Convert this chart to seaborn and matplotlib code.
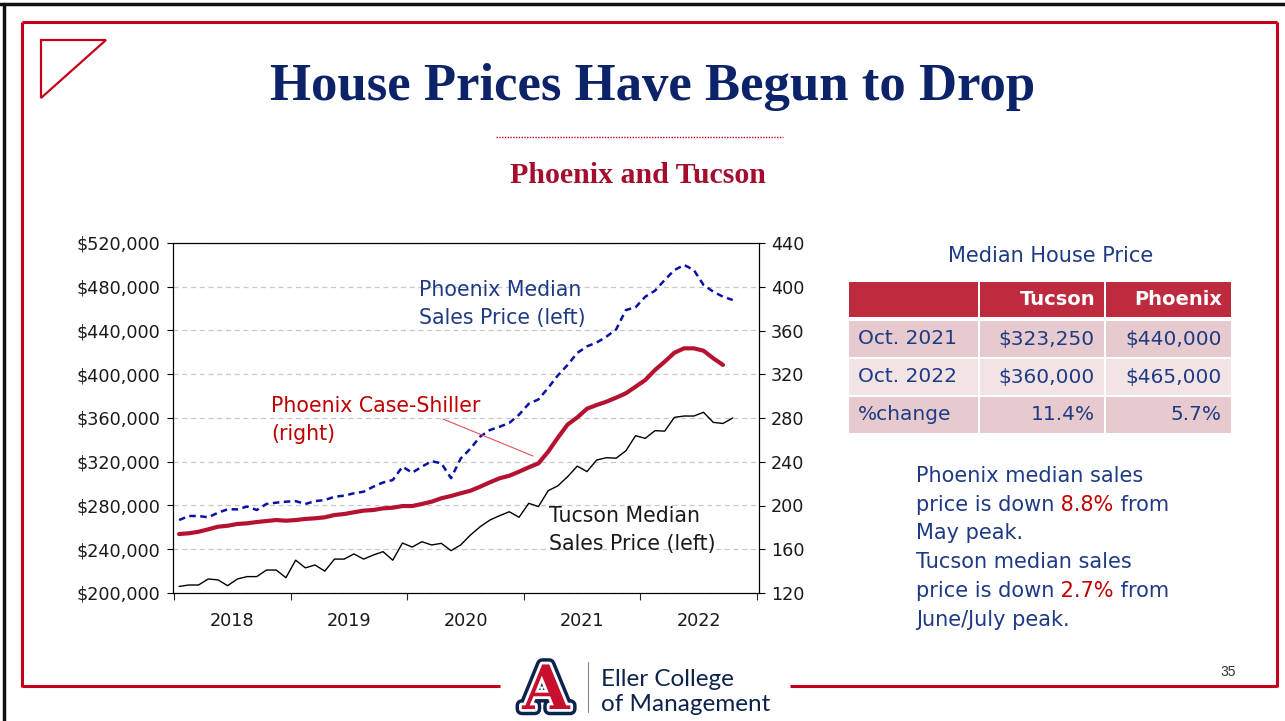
import numpy as np
import pandas as pd
import matplotlib
matplotlib.use('Agg')
import matplotlib.pyplot as plt
import matplotlib.patheffects as pe
from matplotlib.lines import Line2D
from matplotlib.patches import Rectangle, Polygon
import seaborn as sns

W, H = 1285, 721

# monthly data, Jan 2018 - Oct 2022
months = pd.date_range('2018-01-01', periods=58, freq='MS')

# Tucson median sales price ($000, left axis)
tucson = [206, 207.3, 207.3, 212.8, 212, 206.7, 212.8, 215, 215, 221, 221, 214,
          230, 223, 225.6, 220, 231, 231, 235.7, 231, 234.7, 237.8, 230, 245.7,
          242, 246.9, 243.9, 245.4, 238.7, 244, 253, 260.6, 266.7, 270.7, 274.3, 269.2,
          282, 279, 293.5, 298, 306.3, 316, 311, 321.6, 323.7, 323.25, 330, 343.8,
          341.4, 348.4, 348, 360.6, 361.8, 361.8, 365.2, 356, 355, 360]

# Phoenix median sales price ($000, left axis)
phoenix = [266.7, 270.4, 270.4, 269.2, 273.4, 276.5, 276.5, 279, 275.9, 281.4, 282.6, 283.5,
           284, 281.4, 284, 285, 288, 289, 291.2, 292.6, 297.2, 301, 303.3, 315.5,
           310, 315.5, 320.5, 318.6, 305, 323, 332, 343, 349, 352, 355.5, 363,
           373, 377, 387.5, 399, 408.5, 419.5, 425.5, 429, 434.4, 441, 458.7, 461.2,
           470.9, 476.4, 486.2, 495.3, 499.9, 495.3, 481.6, 475.5, 470.9, 467.9]

# Phoenix Case-Shiller index (right axis), last month not yet released
case_shiller = [173.9, 174.6, 176, 178.2, 180.6, 181.5, 183.1, 183.7, 184.9, 185.8, 186.7, 186.1,
                186.7, 187.7, 188.3, 189.2, 191.3, 192.2, 193.8, 195.3, 195.9, 197.4, 198, 199.5,
                199.5, 201.4, 203.5, 206.6, 208.7, 211.2, 213.5, 217.2, 221.2, 224.9, 227.2, 230.9,
                234.9, 238.5, 249.2, 262, 274, 280.5, 288.5, 291.9, 294.9, 298.6, 302.6, 308.6,
                314.7, 323.9, 331.5, 339.7, 343.7, 343.7, 341.5, 334.6, 328.5, np.nan]

year_ticks = [2018, 2019, 2020, 2021, 2022, 2023]
year_labels = ['2018', '2019', '2020', '2021', '2022']
left_ticks = list(range(200000, 520001, 40000))
right_ticks = list(range(120, 441, 40))

table_header = ['', 'Tucson', 'Phoenix']
table_rows = [['Oct. 2021', '$323,250', '$440,000'],
              ['Oct. 2022', '$360,000', '$465,000'],
              ['%change', '11.4%', '5.7%']]

df = pd.DataFrame({'t': months.year + (months.month - 0.5) / 12,
                   'tucson': np.array(tucson) * 1000,
                   'phoenix': np.array(phoenix) * 1000,
                   'case_shiller': case_shiller})

NAVY = '#0C2369'
TXT_BLUE = '#1F3A85'
RED = '#C00000'

sns.set_style('white')
plt.rcParams['font.family'] = ['DejaVu Sans']


def fx(x):
    return x / W


def fy(y):
    return 1 - y / H


fig = plt.figure(figsize=(W / 100, H / 100), dpi=100)

# ---- chart ----
ax = fig.add_axes([fx(173.3), fy(593), (759.3 - 173.3) / W, 350 / H])
sns.lineplot(data=df, x='t', y='tucson', color='black', lw=1.0, ax=ax)
sns.lineplot(data=df, x='t', y='phoenix', color='#0A12A6', lw=1.8, ax=ax)
ax.lines[-1].set_dashes((2.6, 1.8))
ax2 = ax.twinx()
sns.lineplot(data=df, x='t', y='case_shiller', color='#B5122F', lw=3.0, ax=ax2)

ax.set_xlim(2017.992, 2023.02)
ax.set_ylim(200000, 520000)
ax2.set_ylim(120, 440)
ax.set_yticks(left_ticks)
ax.set_yticklabels([f'${v:,.0f}' for v in left_ticks])
ax2.set_yticks(right_ticks)
ax2.set_yticklabels([str(v) for v in right_ticks])
ax.set_xticks(year_ticks)
ax.set_xticklabels([])
ax.set_xticks([y + 0.5 for y in year_ticks[:-1]], minor=True)
ax.set_xticklabels(year_labels, minor=True)
ax.set_xlabel('')
ax.set_ylabel('')
ax2.set_ylabel('')

ax.tick_params(axis='y', left=True, length=4.5, width=0.8, pad=5, labelsize=12.7,
               colors='black', labelcolor='#1a1a1a')
ax2.tick_params(axis='y', right=True, length=4.5, width=0.8, pad=4, labelsize=12.7,
                colors='black', labelcolor='#1a1a1a')
ax.tick_params(axis='x', which='major', bottom=True, length=5, width=0.8, direction='out')
ax.tick_params(axis='x', which='minor', bottom=True, length=0, pad=14, labelsize=12.7,
               labelcolor='#1a1a1a')
ax.grid(axis='y', ls=(0, (4, 3)), color='#c8c8c8', lw=0.9)
for a in (ax, ax2):
    for s in a.spines.values():
        s.set_color('black')
        s.set_linewidth(0.8)

# chart annotations
ann = dict(fontsize=14.8, va='baseline', ha='left')
fig.text(fx(419), fy(296), 'Phoenix Median', color=TXT_BLUE, **ann)
fig.text(fx(419), fy(324), 'Sales Price (left)', color=TXT_BLUE, **ann)
fig.text(fx(271), fy(412), 'Phoenix Case-Shiller', color=RED, **ann)
fig.text(fx(271), fy(440), '(right)', color=RED, **ann)
fig.text(fx(549), fy(522), 'Tucson Median', color='#1a1a1a', **ann)
fig.text(fx(549), fy(550), 'Sales Price (left)', color='#1a1a1a', **ann)
fig.add_artist(Line2D([fx(443), fx(533)], [fy(419), fy(456)], color='#E05060', lw=0.8))

# ---- slide decoration ----
frame = dict(color='#C4001A', lw=2.2, solid_capstyle='butt')
fig.add_artist(Line2D([fx(22), fx(1277)], [fy(22), fy(22)], **frame))
fig.add_artist(Line2D([fx(22), fx(22)], [fy(22), fy(687)], **frame))
fig.add_artist(Line2D([fx(1277), fx(1277)], [fy(22), fy(687)], **frame))
fig.add_artist(Line2D([fx(22), fx(500)], [fy(686), fy(686)], **frame))
fig.add_artist(Line2D([fx(790), fx(1277)], [fy(686), fy(686)], **frame))
fig.add_artist(Line2D([0, 1], [fy(4), fy(4)], color='#111111', lw=2.5))
fig.add_artist(Line2D([fx(4), fx(4)], [fy(4), 0], color='#111111', lw=2.5))
fig.add_artist(Polygon([(fx(41), fy(40)), (fx(106), fy(40)), (fx(41), fy(98))],
                       closed=True, fill=False, ec='#C4001A', lw=1.6))

fig.text(fx(653), fy(100), 'House Prices Have Begun to Drop', family='Liberation Serif',
         fontweight='bold', fontsize=38, color=NAVY, ha='center', va='baseline')
fig.add_artist(Line2D([fx(496), fx(783)], [fy(137), fy(137)], color='#C4001A', lw=1.0,
                      ls=(0, (1, 1))))
fig.text(fx(638), fy(183), 'Phoenix and Tucson', family='Liberation Serif',
         fontweight='bold', fontsize=21.5, color='#A50D2D', ha='center', va='baseline')

# ---- table ----
fig.text(fx(1051), fy(256), 'Median House Price', fontsize=15, color=TXT_BLUE,
         ha='center', va='center')
col_x = [(849, 978), (980, 1104), (1106, 1231)]
row_y = [(282, 317), (321, 357), (359, 395), (397, 433)]
row_colors = ['#BE2A3E', '#E7CACD', '#F2E4E5', '#E7CACD']
for r, (y0, y1) in enumerate(row_y):
    cells = table_header if r == 0 else table_rows[r - 1]
    for c, (x0, x1) in enumerate(col_x):
        fig.add_artist(Rectangle((fx(x0), fy(y1)), (x1 - x0) / W, (y1 - y0) / H,
                                 fc=row_colors[r], ec='none'))
        txt = cells[c]
        if not txt:
            continue
        if c == 0:
            fig.text(fx(x0 + 9), fy((y0 + y1) / 2), txt, fontsize=14.5, color=TXT_BLUE,
                     ha='left', va='center')
        elif r == 0:
            fig.text(fx(x1 - 9), fy((y0 + y1) / 2), txt, fontsize=14, color='white',
                     fontweight='bold', ha='right', va='center')
        else:
            fig.text(fx(x1 - 9), fy((y0 + y1) / 2), txt, fontsize=14.5, color=TXT_BLUE,
                     ha='right', va='center')

# ---- notes with red numbers ----
renderer = fig.canvas.get_renderer()


def colored_line(x, y, parts):
    for s, col in parts:
        t = fig.text(fx(x), fy(y), s, fontsize=15, color=col, ha='left', va='baseline')
        x += t.get_window_extent(renderer).width


notes = [
    [('Phoenix median sales', TXT_BLUE)],
    [('price is down', TXT_BLUE), (' 8.8%', RED), (' from', TXT_BLUE)],
    [('May peak.', TXT_BLUE)],
    [('Tucson median sales', TXT_BLUE)],
    [('price is down', TXT_BLUE), (' 2.7%', RED), (' from', TXT_BLUE)],
    [('June/July peak.', TXT_BLUE)],
]
for i, parts in enumerate(notes):
    colored_line(916, 482 + i * 28.7, parts)

# ---- footer logo ----
fig.text(fx(546), fy(709), 'A', family='DejaVu Serif', fontweight='bold', fontsize=44,
         color='#C8102E', ha='center', va='baseline',
         path_effects=[pe.Stroke(linewidth=9, foreground='#0C234B'),
                       pe.Stroke(linewidth=4, foreground='white'), pe.Normal()])
fig.add_artist(Line2D([fx(588), fx(588)], [fy(662), fy(712)], color='#888888', lw=0.8))
fig.text(fx(601), fy(686), 'Eller College', family='Lato', fontsize=17.5, color='#0C234B',
         ha='left', va='baseline')
fig.text(fx(601), fy(711), 'of Management', family='Lato', fontsize=17.5, color='#0C234B',
         ha='left', va='baseline')
fig.text(fx(1228), fy(672), '35', family='Liberation Sans', fontsize=10, color='#333333',
         ha='center', va='center')

fig.savefig('out.png', dpi=100)
